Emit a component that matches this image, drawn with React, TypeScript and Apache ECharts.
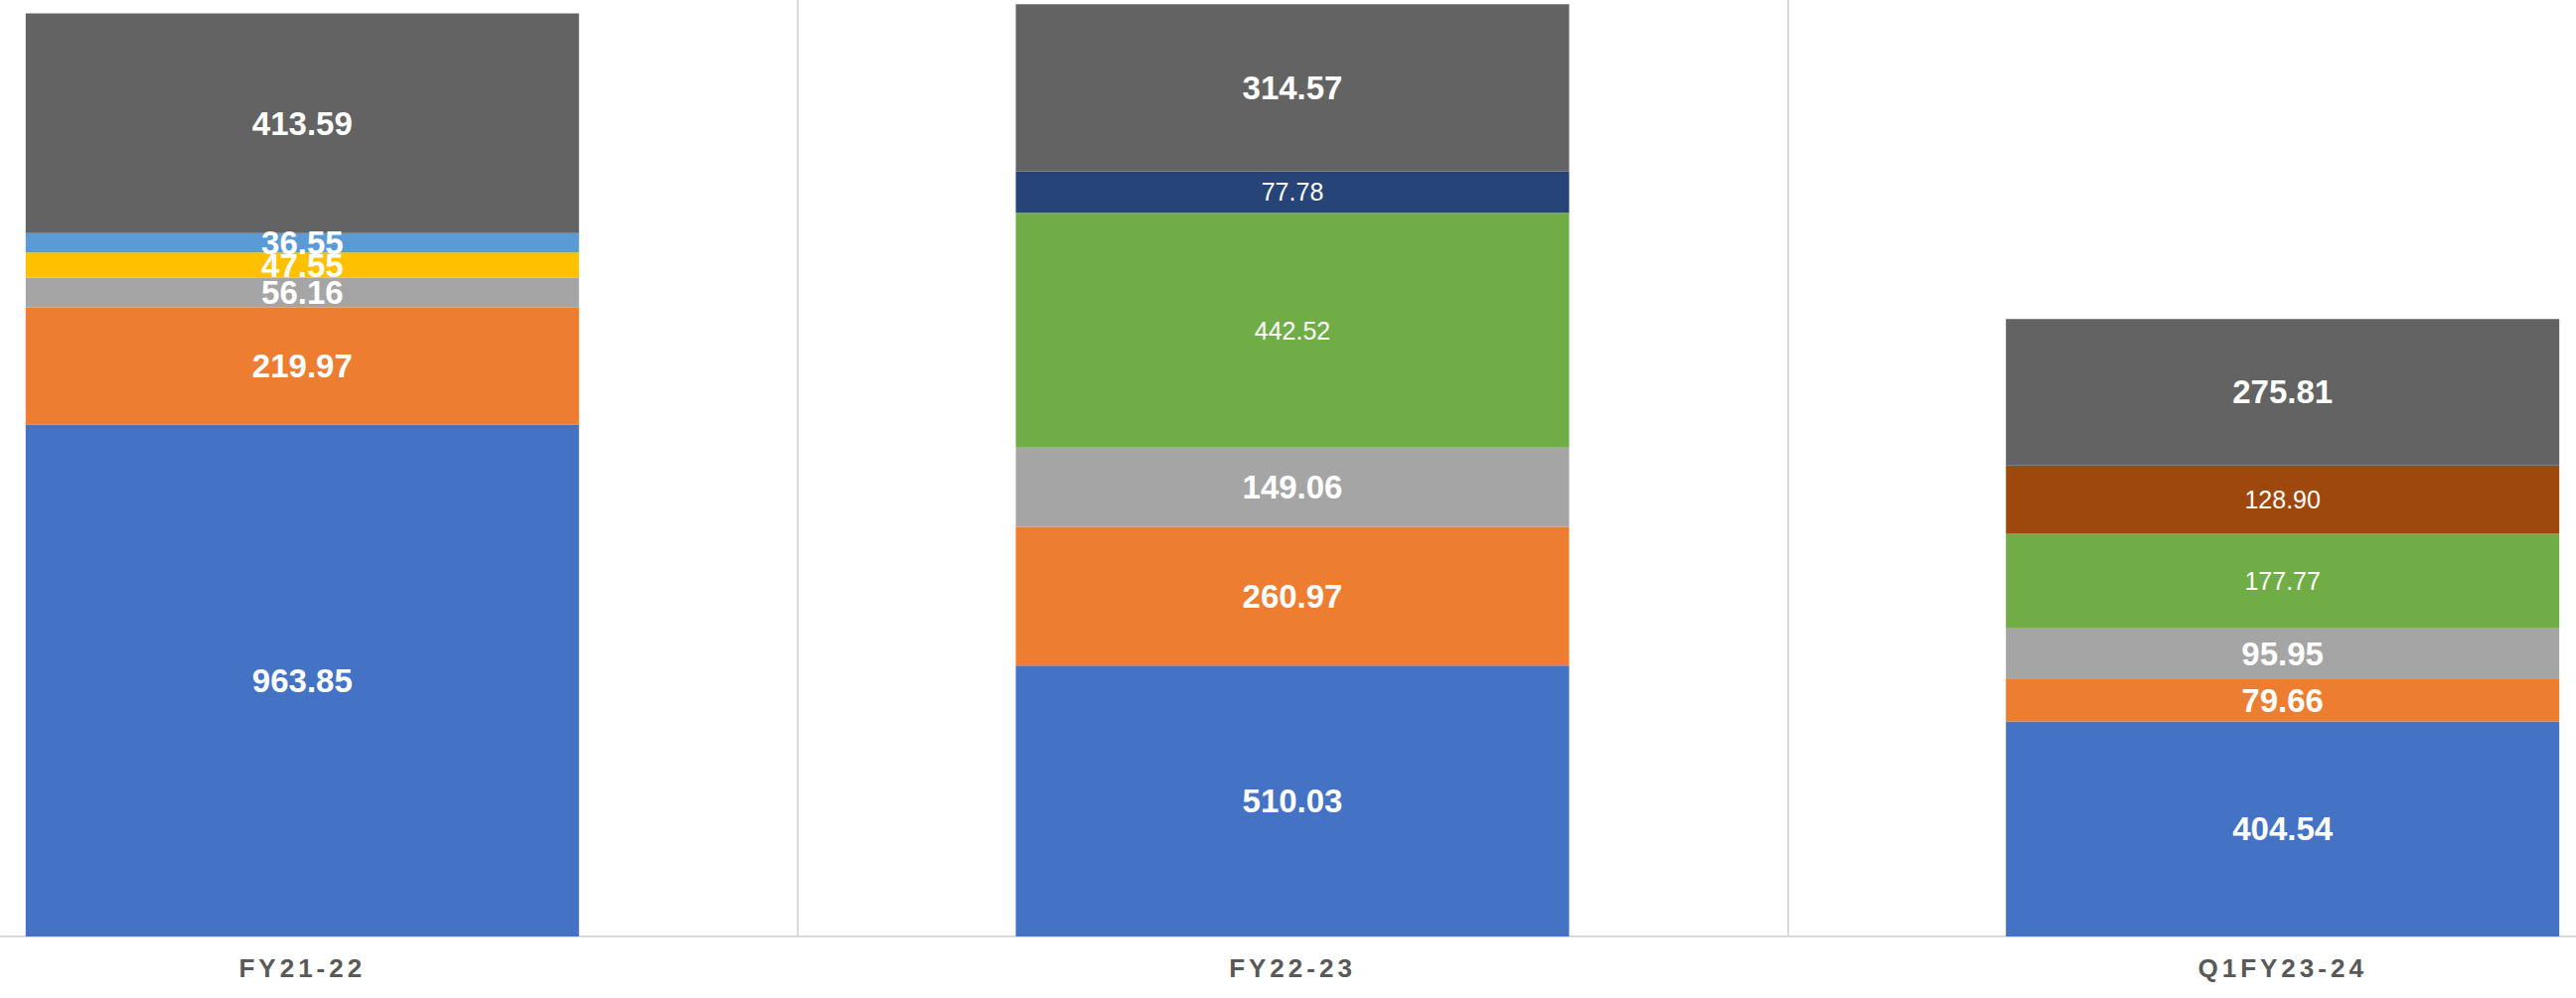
import React, { useEffect, useRef } from "react";
import * as echarts from "echarts";

const categories = ["FY21-22", "FY22-23", "Q1FY23-24"];

const seriesNames = [
  "Blue",
  "Orange",
  "Gray",
  "Yellow",
  "LightBlue",
  "Green",
  "DarkBlue",
  "DarkOrange",
  "DarkGray",
];

const blueValues = [963.85, 510.03, 404.54];
const orangeValues = [219.97, 260.97, 79.66];
const grayValues = [56.16, 149.06, 95.95];
const yellowValues = [47.55, null, null];
const lightBlueValues = [36.55, null, null];
const greenValues = [null, 442.52, 177.77];
const darkBlueValues = [null, 77.78, null];
const darkOrangeValues = [null, null, 128.9];
const darkGrayValues = [413.59, 314.57, 275.81];

const seriesValues = [
  blueValues,
  orangeValues,
  grayValues,
  yellowValues,
  lightBlueValues,
  greenValues,
  darkBlueValues,
  darkOrangeValues,
  darkGrayValues,
];

const seriesColors = [
  "#4472C4",
  "#ED7D31",
  "#A5A5A5",
  "#FFC000",
  "#5B9BD5",
  "#70AD47",
  "#264478",
  "#9E480E",
  "#636363",
];

const boldLabel = [true, true, true, true, true, false, false, false, true];

const FONT = "'Liberation Sans', Arial, Helvetica, sans-serif";

const OFFSET_LEFT = 194;
const OFFSET_RIGHT = 203;

export default function App() {
  const ref = useRef<HTMLDivElement>(null);

  useEffect(() => {
    if (!ref.current) return;
    const chart = echarts.init(ref.current, undefined, { renderer: "svg" });

    const series = seriesValues.map((vals, i) => ({
      name: seriesNames[i],
      type: "bar",
      stack: "total",
      barWidth: 557,
      data: vals.map((v) => (v === null ? "-" : v)),
      itemStyle: { color: seriesColors[i] },
      label: {
        show: true,
        position: "inside",
        color: "#ffffff",
        fontFamily: FONT,
        fontWeight: boldLabel[i] ? "bold" : "normal",
        fontSize: boldLabel[i] ? 33 : 25,
        formatter: (p: any) => Number(p.value).toFixed(2),
      },
    }));

    chart.setOption({
      animation: false,
      backgroundColor: "#ffffff",
      grid: { left: 0, right: 0, top: 0, bottom: 62, containLabel: false },
      xAxis: {
        type: "category",
        data: categories,
        axisTick: { show: false },
        axisLine: { show: true, lineStyle: { color: "#d9d9d9", width: 2 } },
        splitLine: { show: true, lineStyle: { color: "#d9d9d9", width: 2 } },
        axisLabel: {
          color: "#595959",
          fontFamily: FONT,
          fontWeight: "bold",
          fontSize: 26,
          margin: 19,
        },
      },
      yAxis: {
        type: "value",
        min: 0,
        max: 1763,
        show: false,
        splitLine: { show: false },
      },
      series,
    });

    const spaceLabels = () => {
      const texts = ref.current?.querySelectorAll("text") || [];
      texts.forEach((t) => {
        if (categories.includes((t.textContent || "").trim())) {
          (t as SVGTextElement).style.letterSpacing = "4px";
        }
      });
    };
    spaceLabels();
    chart.on("finished", spaceLabels);

    return () => {
      chart.dispose();
    };
  }, []);

  return (
    <div
      style={{
        position: "absolute",
        left: 0,
        top: 0,
        width: 2593,
        height: 1005,
        overflow: "hidden",
        background: "#ffffff",
      }}
    >
      <div
        ref={ref}
        style={{
          position: "absolute",
          left: -OFFSET_LEFT,
          top: 0,
          width: 2593 + OFFSET_LEFT + OFFSET_RIGHT,
          height: 1005,
        }}
      />
    </div>
  );
}
